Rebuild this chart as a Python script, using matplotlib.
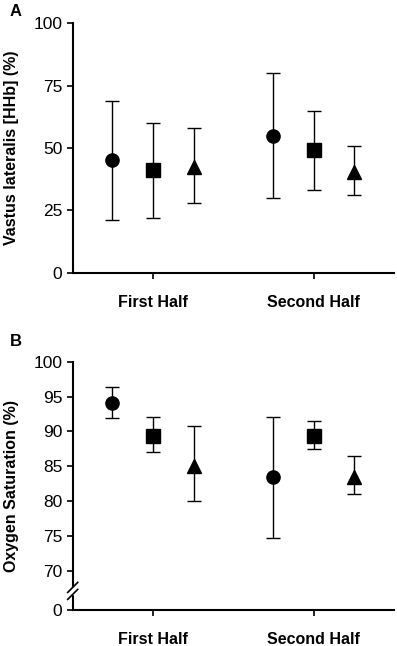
import matplotlib
matplotlib.use("Agg")
import matplotlib.pyplot as plt
import numpy as np

plt.rcParams['font.family'] = ['Liberation Sans', 'DejaVu Sans']

halves = ["First Half", "Second Half"]
markers = ["o", "s", "^"]

# Panel A: Vastus lateralis [HHb] (%)
a_mean = [[45, 55], [41, 49], [42.5, 40.5]]
a_low = [[21, 30], [22, 33], [28, 31]]
a_high = [[69, 80], [60, 65], [58, 51]]
a_ticks = [0, 25, 50, 75, 100]

# Panel B: Oxygen Saturation (%)
b_mean = [[94.1, 83.4], [89.4, 89.3], [85.1, 83.5]]
b_low = [[91.9, 74.7], [87.0, 87.4], [80.0, 81.0]]
b_high = [[96.4, 92.1], [92.0, 91.5], [90.7, 86.5]]
b_ticks = [70, 75, 80, 85, 90, 95, 100]

W, H = 397, 646
fig = plt.figure(figsize=(W / 100, H / 100), dpi=100)

def box(l, t, r, b):
    return [l / W, 1 - b / H, (r - l) / W, (b - t) / H]

axA = fig.add_axes(box(72.7, 23.3, 394, 272.7))
axB = fig.add_axes(box(72.7, 361.7, 394, 610))

offsets = [-1, 0, 1]
xpos = np.array([0.0, 1.0])
dx = 0.254

def draw(ax, mean, low, high):
    for i, m in enumerate(markers):
        x = xpos + offsets[i] * dx
        mu = np.array(mean[i]); lo = np.array(low[i]); hi = np.array(high[i])
        ax.errorbar(x, mu, yerr=[mu - lo, hi - mu], fmt=m, color='black',
                    ms=9.5 if m != '^' else 10, ecolor='black', elinewidth=1.0,
                    capsize=4.7, capthick=1.0, linestyle='none')
    ax.set_xlim(-0.5, 1.5)
    ax.set_xticks(xpos)
    ax.set_xticklabels(halves, fontsize=11.5, fontweight='bold')
    for s in ['top', 'right']:
        ax.spines[s].set_visible(False)
    for s in ['left', 'bottom']:
        ax.spines[s].set_linewidth(1.5)
    ax.tick_params(axis='both', width=1.2, length=4)
    ax.tick_params(axis='y', labelsize=12.5)
    ax.tick_params(axis='x', pad=12)

draw(axA, a_mean, a_low, a_high)
axA.set_ylim(0, 100)
axA.set_yticks(a_ticks)
axA.set_ylabel("Vastus lateralis [HHb] (%)", fontsize=11.5, fontweight='bold', labelpad=10)

draw(axB, b_mean, b_low, b_high)
bottom_val = 70 - 39.3 / (209 / 30)
axB.set_ylim(bottom_val, 100)
axB.set_yticks(b_ticks + [bottom_val])
axB.set_yticklabels([str(t) for t in b_ticks] + ["0"])
axB.set_ylabel("Oxygen Saturation (%)", fontsize=11.5, fontweight='bold', labelpad=10)

# axis break on panel B
axB.spines['left'].set_bounds(bottom_val, 100)
gap_lo = 66.6
gap_hi = 67.6
axB.axhspan(gap_lo, gap_hi, xmin=-0.01, xmax=0.01, color='white', clip_on=False, zorder=5)
for yv in [gap_lo, gap_hi]:
    yb = axB.transData.transform((0, yv))[1]
    x0 = axB.transAxes.transform((0, 0))[0]
    axB.plot([x0 - 5, x0 + 5], [yb - 5, yb + 5], transform=None, color='black', lw=1.2,
             clip_on=False, zorder=6)

fig.text(10 / W, 1 - 12 / H, "A", fontsize=12, fontweight='bold', va='center', ha='left')
fig.text(10 / W, 1 - 341 / H, "B", fontsize=12, fontweight='bold', va='center', ha='left')

fig.savefig("out.png", dpi=100)
